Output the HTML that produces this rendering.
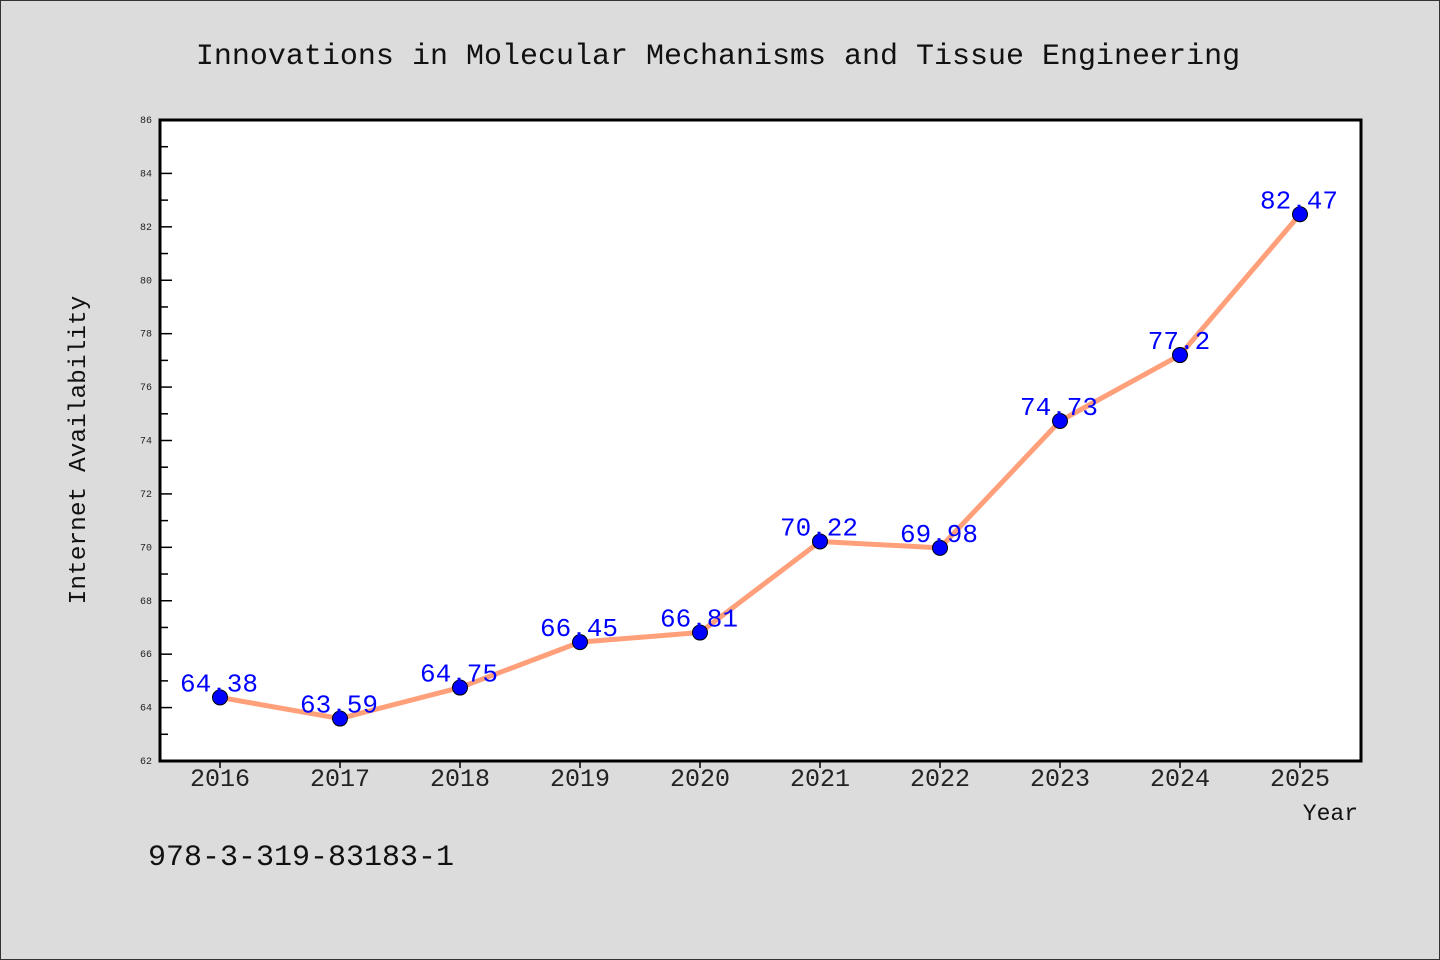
<!DOCTYPE html>
<html><head><meta charset="utf-8"><style>
html,body{margin:0;padding:0;background:#dcdcdc}
svg{display:block}
text{font-family:"Liberation Mono","DejaVu Sans Mono",monospace}
</style></head><body>
<svg width="1440" height="960" viewBox="0 0 1440 960">
<rect x="0.5" y="0.5" width="1439" height="959" fill="#dcdcdc" stroke="#333"/>
<text x="718" y="64" text-anchor="middle" font-size="30" fill="#111">Innovations in Molecular Mechanisms and Tissue Engineering</text>
<rect x="160" y="120" width="1201" height="641" fill="#fff"/>
<g id="axes"></g>
<g id="marks"></g>
<rect x="160" y="120" width="1201" height="641" fill="none" stroke="#000" stroke-width="3"/>
<text x="1358" y="820" text-anchor="end" font-size="23" fill="#111">Year</text>
<text transform="translate(85,450) rotate(-90)" text-anchor="middle" font-size="24.5" fill="#111">Internet Availability</text>
<text x="148" y="865" font-size="30" fill="#111">978-3-319-83183-1</text>
</svg>
<script>
const years = ['2016','2017','2018','2019','2020','2021','2022','2023','2024','2025'];
const values = [64.38,63.59,64.75,66.45,66.81,70.22,69.98,74.73,77.2,82.47];
const labels = ['64.38','63.59','64.75','66.45','66.81','70.22','69.98','74.73','77.2','82.47'];
const yTicks = [62,64,66,68,70,72,74,76,78,80,82,84,86];
const NS='http://www.w3.org/2000/svg';
const X0=220,DX=120,Y_MIN=62,Y_MAX=86,PTOP=120,PBOT=761;
function xs(i){return X0+i*DX;}
function ys(v){return PBOT-(v-Y_MIN)/(Y_MAX-Y_MIN)*(PBOT-PTOP);}
function mk(tag,attrs,parent){const e=document.createElementNS(NS,tag);for(const k in attrs)e.setAttribute(k,attrs[k]);parent.appendChild(e);return e;}
const axesG=document.getElementById('axes'),marksG=document.getElementById('marks');
yTicks.forEach((t,i)=>{
  const y=ys(t);
  const l=mk('line',{x1:160,x2:172,y1:y,y2:y,stroke:'#000','stroke-width':1.5},axesG);
  
  
  const tx=mk('text',{x:152,y:y+3,'text-anchor':'end','font-size':10,fill:'#222'},axesG);
  tx.textContent=t;
  
  
  if(i<yTicks.length-1){
    const ym=ys(t+1);
    const m=mk('line',{x1:160,x2:168,y1:ym,y2:ym,stroke:'#000','stroke-width':1.5},axesG);
    
    
  }
});
years.forEach((yr,i)=>{
  const x=xs(i);
  const l=mk('line',{x1:x,x2:x,y1:761,y2:768,stroke:'#000','stroke-width':1.5},axesG);
  
  
  const tx=mk('text',{x:x,y:786,'text-anchor':'middle','font-size':25,fill:'#222'},axesG);
  tx.textContent=yr;
  
  
});
const pts=values.map((v,i)=>xs(i)+','+ys(v)).join(' ');
const pl=mk('polyline',{points:pts,fill:'none',stroke:'#ffa07a','stroke-width':5,'stroke-linejoin':'round'},marksG);


values.forEach((v,i)=>{
  const c=mk('circle',{cx:xs(i),cy:ys(v),r:7.5,fill:'#0000ff',stroke:'#000','stroke-width':1},marksG);
  
  
});
values.forEach((v,i)=>{
  const t=mk('text',{x:xs(i)-1,y:ys(v)-6,'text-anchor':'middle','font-size':26,fill:'#0000ff'},marksG);
  t.textContent=labels[i];
  
  
});
</script>
</body></html>
